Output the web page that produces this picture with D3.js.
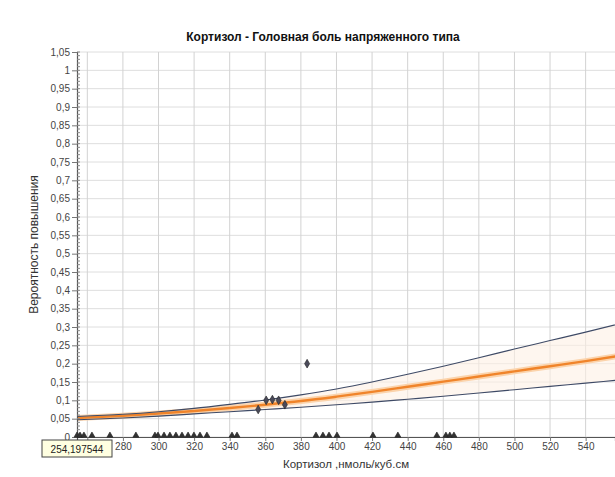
<!DOCTYPE html>
<html><head><meta charset="utf-8">
<script src="https://cdn.jsdelivr.net/npm/d3@7"></script>
<style>
html,body{margin:0;padding:0;background:#fff;overflow:hidden}
svg{display:block}
text{font-family:"Liberation Sans",Arial,sans-serif}
</style></head>
<body>
<svg id="c" width="615" height="477"></svg>
<script>
// ---- data ----
const title = "Кортизол - Головная боль напряженного типа";
const xLabel = "Кортизол ,нмоль/куб.см";
const yLabel = "Вероятность повышения";
const xMin = 254.197544, xMax = 556.5;
const xTicks = [260,280,300,320,340,360,380,400,420,440,460,480,500,520,540];
const xHiddenLabels = [260]; // covered by the tooltip in the reference
const yTicks = [0,0.05,0.1,0.15,0.2,0.25,0.3,0.35,0.4,0.45,0.5,0.55,0.6,0.65,0.7,0.75,0.8,0.85,0.9,0.95,1,1.05];
const curveX =   [254.2,280,300,320,340,360,380,400,420,440,460,480,500,520,540,560];
const fitP =     [0.052,0.058,0.064,0.071,0.079,0.088,0.098,0.110,0.123,0.137,0.151,0.165,0.179,0.193,0.207,0.222];
const upperP =   [0.056,0.062,0.069,0.078,0.089,0.101,0.115,0.131,0.150,0.171,0.193,0.216,0.240,0.263,0.286,0.310];
const lowerP =   [0.047,0.052,0.057,0.063,0.069,0.075,0.081,0.088,0.095,0.103,0.111,0.120,0.129,0.138,0.147,0.156];
const zeroX = [254.2,255.9,258.1,262.6,272.7,287.3,298,299.7,303.1,306.4,309.8,313.2,316.6,319.9,323.3,327.2,341.3,344.1,388.5,392.4,395.8,400.3,420.5,434.5,456.4,461.5,463.7,466];
const highX = [356,360.5,364,367.5,371,383.5];
const highY = [0.075,0.1,0.102,0.1,0.088,0.2];
const tooltipText = "254,197544";

// ---- layout ----
const svg = d3.select("#c");
const L = 77, R = 615, T = 52, B = 437;
const x = d3.scaleLinear().domain([xMin, xMax]).range([L, R]);
const y = d3.scaleLinear().domain([0, 1.05]).range([B, T]);
const fmt = v => String(+v.toFixed(2)).replace(".", ",");

// grid
svg.append("g").selectAll("line").data(yTicks).join("line")
  .attr("x1", L).attr("x2", R).attr("y1", d=>y(d)).attr("y2", d=>y(d))
  .attr("stroke", "#dedede").attr("stroke-width", 1);
svg.append("g").selectAll("line").data(xTicks).join("line")
  .attr("x1", d=>x(d)).attr("x2", d=>x(d)).attr("y1", T).attr("y2", B)
  .attr("stroke", "#d2d2d2").attr("stroke-width", 1);

// band
const pts = curveX.map((v,i)=>({v, f:fitP[i], u:upperP[i], l:lowerP[i]}));
const clip = svg.append("clipPath").attr("id","pc").append("rect")
  .attr("x", L).attr("y", T-2).attr("width", R-L).attr("height", B-T+2);
const g = svg.append("g").attr("clip-path","url(#pc)");
g.append("path").datum(pts)
  .attr("d", d3.area().x(d=>x(d.v)).y0(d=>y(d.l)).y1(d=>y(d.u)).curve(d3.curveMonotoneX))
  .attr("fill", "#fdf0e4").attr("opacity", 0.6);
const line = k => d3.line().x(d=>x(d.v)).y(d=>y(d[k])).curve(d3.curveMonotoneX);
g.append("path").datum(pts).attr("d", line("f")).attr("fill","none")
  .attr("stroke","#fbd3ab").attr("stroke-width",6);
g.append("path").datum(pts).attr("d", line("f")).attr("fill","none")
  .attr("stroke","#f0842a").attr("stroke-width",2.4);
g.append("path").datum(pts).attr("d", line("u")).attr("fill","none")
  .attr("stroke","#3e4a66").attr("stroke-width",1.1);
g.append("path").datum(pts).attr("d", line("l")).attr("fill","none")
  .attr("stroke","#3e4a66").attr("stroke-width",1.1);

// axes
const yAxis = svg.append("g").attr("transform",`translate(${L},0)`)
  .call(d3.axisLeft(y).tickValues(yTicks).tickFormat(fmt).tickSize(5).tickPadding(2));
const yMinor = d3.range(0, 1.0501, 0.01);
svg.append("g").selectAll("line").data(yMinor).join("line")
  .attr("x1", L).attr("x2", L+3).attr("y1", d=>y(d)).attr("y2", d=>y(d))
  .attr("stroke","#888");
const xAxis = svg.append("g").attr("transform",`translate(0,${B})`)
  .call(d3.axisBottom(x).tickValues(xTicks)
    .tickFormat(d => xHiddenLabels.includes(d) ? "" : d3.format("d")(d))
    .tickSize(4).tickPadding(2));
[yAxis, xAxis].forEach(a=>{
  a.select(".domain").attr("stroke","#555").attr("stroke-width",1.2);
  a.selectAll(".tick line").attr("stroke","#777");
  a.selectAll("text").attr("font-size",10).attr("fill","#444")
   .style("font-family","'Liberation Sans',Arial,sans-serif");
});

// points
const symZ = d3.symbol().type(d3.symbolTriangle).size(16);
svg.append("g").selectAll("path").data(zeroX).join("path")
  .attr("transform", d=>`translate(${x(d)},${y(0)-1.5})`).attr("d", symZ)
  .attr("fill","#333").attr("stroke","#222").attr("stroke-width",0.6);
const symH = d3.symbol().type(d3.symbolDiamond).size(22);
svg.append("g").selectAll("path").data(highX.map((v,i)=>[v,highY[i]])).join("path")
  .attr("transform", d=>`translate(${x(d[0])},${y(d[1])})`).attr("d", symH)
  .attr("fill","#4a4a5a").attr("stroke","#222").attr("stroke-width",0.6);

// titles
svg.append("text").attr("x", 323).attr("y", 41).attr("text-anchor","middle")
  .attr("font-size",12).attr("font-weight","bold").attr("fill","#111").text(title);
svg.append("text").attr("x", (L+R)/2).attr("y", 468).attr("text-anchor","middle")
  .attr("font-size",11.5).attr("fill","#333").text(xLabel);
svg.append("text").attr("transform",`translate(38,${(T+B)/2}) rotate(-90)`)
  .attr("text-anchor","middle").attr("font-size",12).attr("fill","#333").text(yLabel);

// tooltip
const tg = svg.append("g").attr("transform","translate(42,440)");
tg.append("rect").attr("width",70).attr("height",17).attr("fill","#ffffe1")
  .attr("stroke","#444").attr("stroke-width",1);
tg.append("text").attr("x",35).attr("y",12.5).attr("text-anchor","middle")
  .attr("font-size",10).attr("fill","#222").text(tooltipText);
</script>
</body></html>
